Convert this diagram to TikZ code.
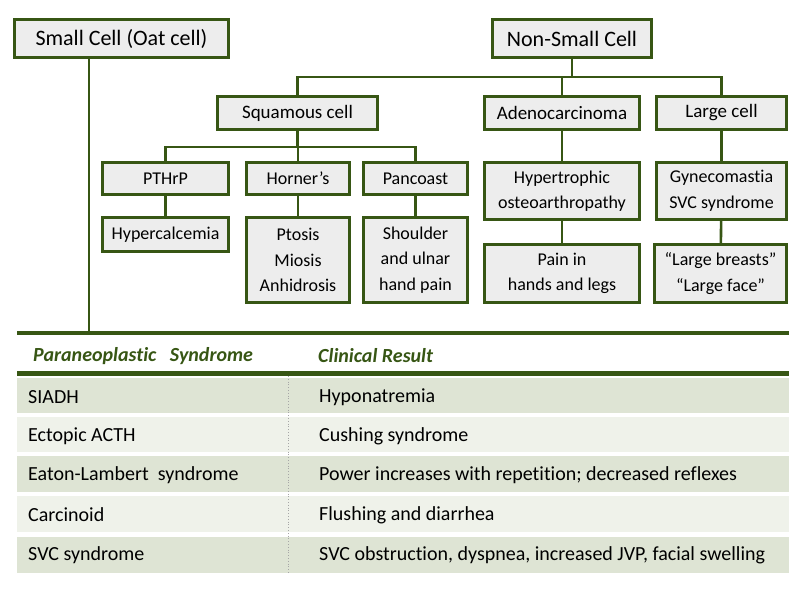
\documentclass[tikz,border=0pt]{standalone}
\usepackage{fontspec}
\setmainfont{Carlito}[Ligatures=NoCommon]
\usepackage{xcolor}
\usetikzlibrary{positioning}
\definecolor{dkgreen}{RGB}{55,86,20}
\definecolor{boxgray}{RGB}{237,237,237}
\definecolor{rowdark}{RGB}{222,228,212}
\definecolor{rowlight}{RGB}{239,242,234}

\begin{document}
\begin{tikzpicture}[x=1pt,y=-1pt,font=\fontsize{18}{25.5}\selectfont,
  box/.style={draw=dkgreen,line width=2.6pt,fill=boxgray,inner sep=0pt,align=center},
  topbox/.style={box,font=\fontsize{22}{26}\selectfont},
  midbox/.style={box,font=\fontsize{19}{23}\selectfont},
  link/.style={dkgreen,line width=2.6pt},
  rule/.style={dkgreen,line width=4.5pt},
  cell/.style={anchor=west,inner sep=0pt,font=\fontsize{20}{24}\selectfont},
  head/.style={anchor=west,inner sep=0pt,text=dkgreen,font=\fontsize{20}{24}\selectfont\bfseries\itshape}]
\useasboundingbox (0,0) rectangle (800,600);

% tree
\node[topbox,minimum width=214pt,minimum height=38pt] (sc) at (121.5,38.5) {Small Cell (Oat cell)};
\node[topbox,minimum width=159pt,minimum height=38pt] (nsc) at (572,38.5) {Non-Small Cell};
\node[midbox,minimum width=160pt,minimum height=33pt] (sq) at (297.5,113) {Squamous cell};
\node[midbox,minimum width=155pt,minimum height=33pt] (adc) at (562,113) {Adenocarcinoma};
\node[midbox,minimum width=130pt,minimum height=33pt] (lc) at (721.5,113) {Large cell};
\node[box,minimum width=126pt,minimum height=32pt] (pthrp) at (165.5,178.5) {PTHrP};
\node[box,minimum width=103pt,minimum height=32pt] (hor) at (298,178.5) {Horner’s};
\node[box,minimum width=104pt,minimum height=32pt] (panc) at (415.5,178.5) {Pancoast};
\node[box,minimum width=126pt,minimum height=34pt] (hyper) at (165.5,234.5) {Hypercalcemia};
\node[box,minimum width=103pt,minimum height=85pt] (ptos) at (298,260) {Ptosis\\Miosis\\Anhidrosis};
\node[box,minimum width=104pt,minimum height=85pt] (shoul) at (415.5,260) {Shoulder\\and ulnar\\hand pain};
\node[box,minimum width=155pt,minimum height=57pt] (hoa) at (562,191) {Hypertrophic\\osteoarthropathy};
\node[box,minimum width=155pt,minimum height=58pt] (pain) at (562,273.5) {Pain in\\hands and legs};
\node[box,minimum width=130pt,minimum height=57pt] (gyn) at (721.5,191) {Gynecomastia\\SVC syndrome};
\node[box,minimum width=132pt,minimum height=58pt] (face) at (720.5,273.5) {“Large breasts”\\“Large face”};

\coordinate (nsbar) at (0,77);
\coordinate (sqbar) at (0,147);
\coordinate (scend) at (89,333);

\draw[link] (sq.north) |- (lc.north |- nsbar) -- (lc.north);
\draw[link] (nsc.south) -- (nsc.south |- nsbar);
\draw[link] (adc.north) -- (adc.north |- nsbar);
\draw[link] (pthrp.north) |- (panc.north |- sqbar) -- (panc.north);
\draw[link] (sq.south) -- (sq.south |- sqbar);
\draw[link] (hor.north) -- (hor.north |- sqbar);
\draw[link] (pthrp) -- (hyper);
\draw[link] (hor) -- (ptos);
\draw[link] (panc) -- (shoul);
\draw[link] (adc) -- (hoa);
\draw[link] (hoa) -- (pain);
\draw[link] (lc) -- (gyn);
\draw[link] (gyn) -- (face);
\draw[link] (sc.south -| scend) -- (scend);

% table
\fill[rowdark] (17,378) rectangle (789,413);
\fill[rowlight] (17,417) rectangle (789,452);
\fill[rowdark] (17,456) rectangle (789,492);
\fill[rowlight] (17,496) rectangle (789,532);
\fill[rowdark] (17,537) rectangle (789,573);
\draw[gray!70,dotted,line width=0.8pt] (288,376) -- (288,573);
\draw[rule] (17,333) -- (789,333);
\draw[rule] (17,373.5) -- (789,373.5);

\node[head] (h1) at (33,356) {Paraneoplastic\ \ \ Syndrome};
\node[head] (h2) at (318,356) {Clinical Result};

\node[cell] (s1) at (28,397) {SIADH};
\node[cell] (r1) at (319,397) {Hyponatremia};
\node[cell] (s2) at (28,436.5) {Ectopic ACTH};
\node[cell] (r2) at (319,436.5) {Cushing syndrome};
\node[cell] (s3) at (28,475.5) {Eaton-Lambert\ \ syndrome};
\node[cell] (r3) at (319,475.5) {Power increases with repetition; decreased reflexes};
\node[cell] (s4) at (28,515) {Carcinoid};
\node[cell] (r4) at (319,515) {Flushing and diarrhea};
\node[cell] (s5) at (28,555) {SVC syndrome};
\node[cell] (r5) at (319,555) {SVC obstruction, dyspnea, increased JVP, facial swelling};
\end{tikzpicture}
\end{document}
